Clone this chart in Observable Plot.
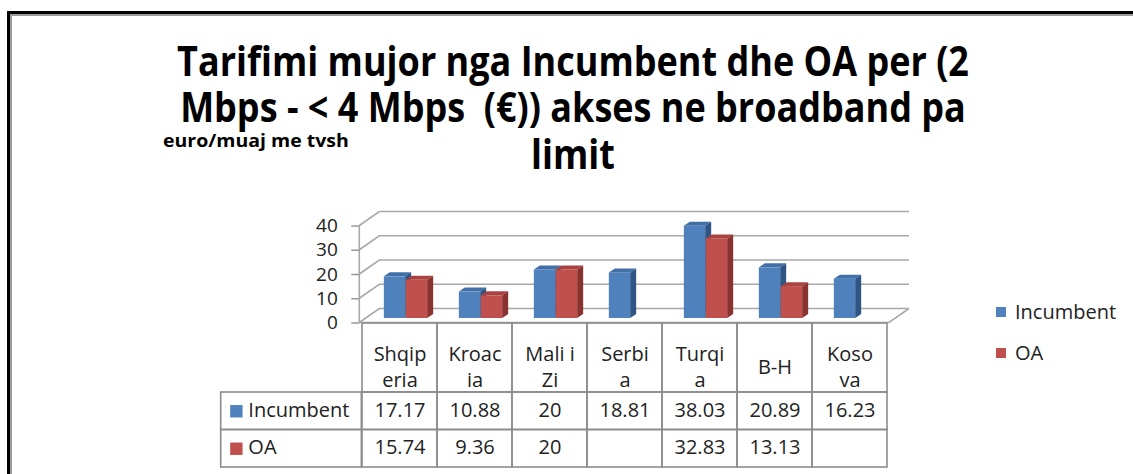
<!DOCTYPE html>
<html>
<head>
<meta charset="utf-8">
<script src="https://cdn.jsdelivr.net/npm/d3@7"></script>
<script src="https://cdn.jsdelivr.net/npm/@observablehq/plot@0.6"></script>
<style>
  html, body { margin: 0; padding: 0; background: #fff; overflow: hidden; }
  #page { position: relative; width: 1133px; height: 474px; overflow: hidden; font-family: "Open Sans", sans-serif; background: #fff; }
  #b1 { position: absolute; left: 7px; top: 11px; width: 1300px; height: 700px; border-left: 3px solid #000; border-top: 3px solid #000; }
  #b2 { position: absolute; left: 10px; top: 14px; width: 1300px; height: 700px; border-left: 2px solid #9a9a9a; border-top: 2px solid #9a9a9a; }
  .tl { position: absolute; left: 573px; font-weight: 700; font-size: 36px; line-height: 36px; height: 36px; color: #000; white-space: pre; transform: translateX(-50%) scaleY(1.14); transform-origin: 50% 50%; }
  #unit { position: absolute; left: 163px; top: 131px; font-weight: 700; font-size: 19.5px; line-height: 22px; color: #000; white-space: pre; transform: scaleY(0.9); transform-origin: 0 0; }
  .svgwrap { position: absolute; left: 0; }
  .leg { position: absolute; left: 996px; font-size: 20px; color: #222; line-height: 20px; white-space: pre; }
  .leg i { position: absolute; left: 0; width: 10px; height: 10px; }
  .leg span { position: absolute; left: 19px; top: -10px; }
</style>
</head>
<body>
<div id="page">
  <div id="b1"></div>
  <div id="b2"></div>
  <div class="tl" style="top:43px">Tarifimi mujor nga Incumbent dhe OA per (2</div>
  <div class="tl" style="top:89px">Mbps - &lt; 4 Mbps  (€)) akses ne broadband pa</div>
  <div class="tl" style="top:136px">limit</div>
  <div id="unit">euro/muaj me tvsh</div>
  <div id="chart" class="svgwrap" style="top:0"></div>
  <div id="table" class="svgwrap" style="top:322.5px"></div>
  <div id="legend"></div>
</div>
<script>
// ---------- data ----------
const categories = ["Shqiperia", "Kroacia", "Mali i Zi", "Serbia", "Turqia", "B-H", "Kosova"];
const headerLabels = ["Shqip\neria", "Kroac\nia", "Mali i\nZi", "Serbi\na", "Turqi\na", "B-H", "Koso\nva"];
const series = ["Incumbent", "OA"];
const incumbent = [17.17, 10.88, 20, 18.81, 38.03, 20.89, 16.23];
const oa = [15.74, 9.36, 20, null, 32.83, 13.13, null];
const yTicks = [0, 10, 20, 30, 40];

// ---------- styles / layout ----------
const colors = {Incumbent: "#4F81BD", OA: "#C0504D"};
const topColors = {Incumbent: "#4170A8", OA: "#AA433F"};
const sideColors = {Incumbent: "#2F5585", OA: "#8A322F"};
const FONT = "'Open Sans', sans-serif";
const X0 = 359.3, X1 = 889, Y0 = 322.5, Y40 = 225.5;
const BW = (X1 - X0) / categories.length;
const WALL = {dx: 20, dy: -14};
const BAR = {w: 22, dx: 6, dy: -4.5, ddx: 6, ddy: -4};

const valuesBySeries = {Incumbent: incumbent, OA: oa};
const rows = series.flatMap(s => categories.map((c, i) => ({series: s, category: c, value: valuesBySeries[s][i]})));
const barRows = rows.filter(d => d.value != null);

// ---------- chart ----------
const wall = Plot.ruleY(yTicks, {
  render(index, scales, values, dims) {
    const y = scales.y;
    const xl = dims.marginLeft, xr = dims.width - dims.marginRight;
    const g = d3.create("svg:g").attr("fill", "none").attr("stroke", "#a8a8a8").attr("stroke-width", 1.6);
    for (const v of yTicks) {
      const py = y(v);
      g.append("path").attr("d", `M${xl},${py}L${xl + WALL.dx},${py + WALL.dy}H${xr + WALL.dx}`);
    }
    g.append("path").attr("d", `M${xl},${y(0)}H${xr}L${xr + WALL.dx},${y(0) + WALL.dy}`);
    g.append("path").attr("d", `M${xl},${y(yTicks[yTicks.length - 1])}V${y(0)}`);
    return g.node();
  }
});

function bars3d(s, insetLeft, insetRight) {
  return Plot.barY(barRows.filter(d => d.series === s), {
    x: "category", y: "value", fill: colors[s],
    insetLeft, insetRight, dx: BAR.dx, dy: BAR.dy,
    render(index, scales, values, dims, ctx, next) {
      const g = next(index, scales, values, dims, ctx);
      d3.select(g).selectAll("rect").each(function () {
        const r = d3.select(this);
        const x = +r.attr("x"), y = +r.attr("y"), w = +r.attr("width"), h = +r.attr("height");
        const p = this.parentNode;
        d3.select(p).append("path").attr("fill", topColors[s])
          .attr("d", `M${x},${y}l${BAR.ddx},${BAR.ddy}h${w}l${-BAR.ddx},${-BAR.ddy}Z`);
        d3.select(p).append("path").attr("fill", sideColors[s])
          .attr("d", `M${x + w},${y}l${BAR.ddx},${BAR.ddy}v${h}l${-BAR.ddx},${-BAR.ddy}Z`);
      });
      return g;
    }
  });
}

const chart = Plot.plot({
  width: 1133, height: 474,
  marginLeft: X0, marginRight: 1133 - X1, marginTop: Y40, marginBottom: 474 - Y0,
  x: {type: "band", domain: categories, range: [X0, X1], padding: 0, axis: null},
  y: {domain: [0, 40], range: [Y0, Y40], axis: null},
  style: {background: "transparent", fontFamily: FONT, overflow: "visible"},
  marks: [
    wall,
    Plot.axisY(yTicks, {anchor: "left", tickSize: 8, tickPadding: 14, fontSize: 19, stroke: "#999", strokeWidth: 1.5, fill: "#222", label: null}),
    bars3d("Incumbent", BW / 2 - BAR.w, BW / 2),
    bars3d("OA", BW / 2, BW / 2 - BAR.w)
  ]
});
document.getElementById("chart").append(chart);

// ---------- data table ----------
const rowTop = {header: 0, Incumbent: 69, OA: 106.5};
const rowBottom = {header: 69, Incumbent: 106.5, OA: 144};
const cells = ["header", ...series].flatMap(r => categories.map(c => ({row: r, category: c})));
const LABEL_W = X0 - 218;

const table = Plot.plot({
  width: 1133, height: 148,
  marginLeft: 218, marginRight: 1133 - X1, marginTop: 0, marginBottom: 4,
  x: {type: "band", domain: categories, range: [X0, X1], padding: 0, axis: null},
  y: {domain: [0, 144], range: [0, 144], axis: null},
  style: {background: "transparent", fontFamily: FONT, overflow: "visible"},
  marks: [
    Plot.barY(cells, {x: "category", y1: d => rowTop[d.row], y2: d => rowBottom[d.row], fill: "none", stroke: "#8c8c8c", strokeWidth: 1.6}),
    Plot.barY(series, {x: () => categories[0], y1: d => rowTop[d], y2: d => rowBottom[d], insetLeft: -LABEL_W, insetRight: BW, fill: "none", stroke: "#8c8c8c", strokeWidth: 1.6}),
    Plot.text(categories, {x: d => d, y: 42.4, text: (d, i) => headerLabels[i], fontSize: 20, lineHeight: 1.3, fill: "#222"}),
    Plot.text(barRows, {x: "category", y: d => (rowTop[d.series] + rowBottom[d.series]) / 2 - 1, text: d => String(d.value), fontSize: 20, fill: "#222"}),
    Plot.dot(series, {x: () => categories[0], y: d => (rowTop[d] + rowBottom[d]) / 2, symbol: "square", r: 7, fill: d => colors[d], dx: 233.5 - (X0 + BW / 2)}),
    Plot.text(series, {x: () => categories[0], y: d => (rowTop[d] + rowBottom[d]) / 2 - 1, text: d => d, textAnchor: "start", fontSize: 20, fill: "#222", dx: 245.5 - (X0 + BW / 2)})
  ]
});
document.getElementById("table").append(table);

// ---------- legend ----------
const legendTop = {Incumbent: 311.7, OA: 353};
const leg = document.getElementById("legend");
for (const s of series) {
  const el = document.createElement("div");
  el.className = "leg";
  el.style.top = legendTop[s] + "px";
  el.innerHTML = `<i style="background:${colors[s]};top:-5px"></i><span>${s}</span>`;
  leg.append(el);
}
</script>
</body>
</html>
